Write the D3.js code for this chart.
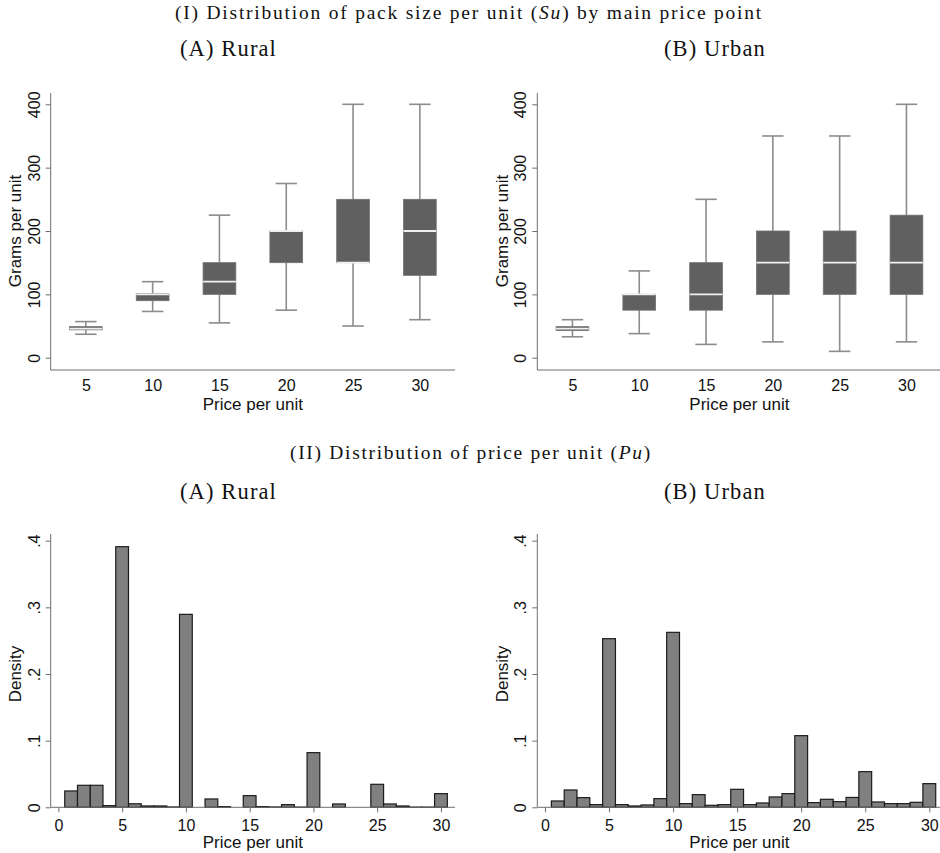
<!DOCTYPE html>
<html><head><meta charset="utf-8">
<script src="https://cdn.jsdelivr.net/npm/d3@7"></script>
<style>body{margin:0;background:#fff} svg{display:block}</style>
</head><body>
<svg id="c" width="940" height="853"></svg>
<script>
// ---------- data ----------
const pricePoints = [5, 10, 15, 20, 25, 30];
const ruralLow  = [37, 73, 55, 75, 50, 60];
const ruralQ1   = [44, 90, 100, 150, 150, 130];
const ruralMed  = [46, 100, 120, 200, 150, 200];
const ruralQ3   = [49, 101, 150, 200, 250, 250];
const ruralHigh = [57, 120, 225, 275, 400, 400];
const urbanLow  = [33, 38, 21, 25, 10, 25];
const urbanQ1   = [43, 75, 75, 100, 100, 100];
const urbanMed  = [46, 100, 100, 150, 150, 150];
const urbanQ3   = [49, 100, 150, 200, 200, 225];
const urbanHigh = [60, 137, 250, 350, 350, 400];
const boxYTicks = [0, 100, 200, 300, 400];

const histBins = [1,2,3,4,5,6,7,8,9,10,11,12,13,14,15,16,17,18,19,20,21,22,23,24,25,26,27,28,29,30];
const ruralDensity = [0.0245, 0.033, 0.033, 0.0025, 0.391, 0.0053, 0.002, 0.002, 0.0005, 0.2895,
                      0, 0.0125, 0.001, 0, 0.0175, 0.001, 0.0005, 0.004, 0.0003, 0.082,
                      0, 0.005, 0, 0, 0.0345, 0.005, 0.002, 0.0003, 0.0003, 0.0205];
const urbanDensity = [0.0095, 0.026, 0.0145, 0.004, 0.253, 0.004, 0.002, 0.0035, 0.013, 0.2625,
                      0.0055, 0.019, 0.003, 0.004, 0.027, 0.004, 0.0065, 0.0155, 0.0205, 0.1075,
                      0.007, 0.012, 0.0085, 0.0148, 0.0535, 0.008, 0.0055, 0.0055, 0.0075, 0.0355];
const binWidth = 1;
const histYTicks = [0, 0.1, 0.2, 0.3, 0.4];
const histYLabels = ["0", ".1", ".2", ".3", ".4"];
const histXTicks = [0, 5, 10, 15, 20, 25, 30];

// ---------- style ----------
const SANS = "'Liberation Sans', Arial, sans-serif";
const SERIF = "'Liberation Serif', 'Times New Roman', serif";
const axisColor = "#6e6e6e";
const boxFill = "#606060";
const whiskerColor = "#8c8c8c";
const medianColor = "#f0f0f0";
const barFill = "#808080";
const barStroke = "#1c1c1c";

const svg = d3.select("#c");

// widen text to the target width with letter spacing (keeps the font size)
function spreadText(sel, target) {
  const w = sel.node().getComputedTextLength();
  const n = sel.text().length;
  if (w < target) sel.attr("letter-spacing", (target - w) / n);
  else sel.attr("font-size", parseFloat(sel.attr("font-size")) * target / w);
}

function title(parts, cx, baseline, width, fs) {
  const t = svg.append("text").attr("x", cx).attr("y", baseline)
    .attr("text-anchor", "middle").attr("font-family", SERIF).attr("font-size", fs).attr("fill", "#111");
  parts.forEach(p => t.append("tspan").attr("font-style", p.i ? "italic" : "normal").text(p.t));
  spreadText(t, width);
}

function styleYAxis(g, yTitle, cy, x0) {
  g.select(".domain").remove();
  g.selectAll(".tick line").attr("stroke", axisColor);
  g.selectAll(".tick text")
    .attr("x", 0).attr("dy", 0).attr("text-anchor", "middle")
    .attr("transform", "translate(-11,0) rotate(-90)")
    .attr("font-family", SANS).attr("font-size", 16).attr("fill", "#111");
  svg.append("text").attr("transform", `translate(${x0 - 29.5},${cy}) rotate(-90)`)
    .attr("text-anchor", "middle").attr("font-family", SANS).attr("font-size", 17).attr("fill", "#111")
    .text(yTitle);
}

function boxPanel(x0, x1, low, q1, med, q3, high) {
  const y = d3.scaleLinear().domain([0, 400]).range([357.7, 104.3]);
  const x = d3.scalePoint().domain(pricePoints).range([x0, x1]).padding(0.526);
  const axisY = 370, axisTop = 93;
  const g = svg.append("g");
  g.append("line").attr("x1", x0).attr("x2", x0).attr("y1", axisTop).attr("y2", axisY).attr("stroke", axisColor);
  g.append("line").attr("x1", x0).attr("x2", x1).attr("y1", axisY).attr("y2", axisY).attr("stroke", axisColor);
  const ya = g.append("g").attr("transform", `translate(${x0},0)`)
    .call(d3.axisLeft(y).tickValues(boxYTicks).tickSize(5).tickSizeOuter(0));
  styleYAxis(ya, "Grams per unit", (y(0) + y(400)) / 2, x0);
  const xa = g.append("g").attr("transform", `translate(0,${axisY})`)
    .call(d3.axisBottom(x).tickSize(0).tickPadding(9.5));
  xa.select(".domain").remove();
  xa.selectAll(".tick text").attr("font-family", SANS).attr("font-size", 16).attr("fill", "#111");
  svg.append("text").attr("x", (x0 + x1) / 2).attr("y", 410).attr("text-anchor", "middle")
    .attr("font-family", SANS).attr("font-size", 17).attr("fill", "#111").text("Price per unit");

  const bw = x.step() * 0.49, cw = x.step() * 0.32;
  const rows = pricePoints.map((p, i) => ({p, lo: low[i], q1: q1[i], med: med[i], q3: q3[i], hi: high[i]}));
  const b = g.selectAll(".box").data(rows).join("g").attr("class", "box");
  b.append("line").attr("x1", d => x(d.p)).attr("x2", d => x(d.p)).attr("y1", d => y(d.hi)).attr("y2", d => y(d.q3))
    .attr("stroke", whiskerColor).attr("stroke-width", 1.6);
  b.append("line").attr("x1", d => x(d.p)).attr("x2", d => x(d.p)).attr("y1", d => y(d.q1)).attr("y2", d => y(d.lo))
    .attr("stroke", whiskerColor).attr("stroke-width", 1.6);
  b.append("line").attr("x1", d => x(d.p) - cw / 2).attr("x2", d => x(d.p) + cw / 2).attr("y1", d => y(d.hi)).attr("y2", d => y(d.hi))
    .attr("stroke", whiskerColor).attr("stroke-width", 1.6);
  b.append("line").attr("x1", d => x(d.p) - cw / 2).attr("x2", d => x(d.p) + cw / 2).attr("y1", d => y(d.lo)).attr("y2", d => y(d.lo))
    .attr("stroke", whiskerColor).attr("stroke-width", 1.6);
  b.append("rect").attr("x", d => x(d.p) - bw / 2).attr("width", bw)
    .attr("y", d => y(d.q3)).attr("height", d => y(d.q1) - y(d.q3))
    .attr("fill", boxFill).attr("stroke", "#707070").attr("stroke-width", 0.8);
  b.append("line").attr("x1", d => x(d.p) - bw / 2).attr("x2", d => x(d.p) + bw / 2).attr("y1", d => y(d.med)).attr("y2", d => y(d.med))
    .attr("stroke", medianColor).attr("stroke-width", 1.8);
}

function histPanel(x0, x1, xmax, dens) {
  const y = d3.scaleLinear().domain([0, 0.4]).range([807.3, 540.7]);
  const x = d3.scaleLinear().domain([-0.6, xmax]).range([x0, x1]);
  const axisY = y(0), axisTop = 534;
  const g = svg.append("g");
  const rows = histBins.map((c, i) => ({c, v: dens[i]})).filter(d => d.v > 0);
  g.selectAll(".bar").data(rows).join("rect").attr("class", "bar")
    .attr("x", d => x(d.c - binWidth / 2)).attr("width", d => x(d.c + binWidth / 2) - x(d.c - binWidth / 2))
    .attr("y", d => y(d.v)).attr("height", d => y(0) - y(d.v))
    .attr("fill", barFill).attr("stroke", barStroke).attr("stroke-width", 1.2);
  g.append("line").attr("x1", x0).attr("x2", x0).attr("y1", axisTop).attr("y2", axisY).attr("stroke", axisColor);
  g.append("line").attr("x1", x0).attr("x2", x1).attr("y1", axisY).attr("y2", axisY).attr("stroke", axisColor);
  const ya = g.append("g").attr("transform", `translate(${x0},0)`)
    .call(d3.axisLeft(y).tickValues(histYTicks).tickFormat((d, i) => histYLabels[i]).tickSize(5).tickSizeOuter(0));
  styleYAxis(ya, "Density", (y(0) + y(0.4)) / 2, x0);
  const xa = g.append("g").attr("transform", `translate(0,${axisY})`)
    .call(d3.axisBottom(x).tickValues(histXTicks).tickFormat(d3.format("d")).tickSize(5).tickPadding(7.3));
  xa.select(".domain").remove();
  xa.selectAll(".tick line").attr("stroke", axisColor);
  xa.selectAll(".tick text").attr("font-family", SANS).attr("font-size", 16).attr("fill", "#111");
  svg.append("text").attr("x", (x0 + x1) / 2).attr("y", 848).attr("text-anchor", "middle")
    .attr("font-family", SANS).attr("font-size", 17).attr("fill", "#111").text("Price per unit");
}

// ---------- titles ----------
title([{t: "(I) Distribution of pack size per unit ("}, {t: "Su", i: true}, {t: ") by main price point"}], 469, 19, 588, 19.5);
title([{t: "(A) Rural"}], 228.5, 56, 97, 22.5);
title([{t: "(B) Urban"}], 715, 56, 102, 22.5);
title([{t: "(II) Distribution of price per unit ("}, {t: "Pu", i: true}, {t: ")"}], 471, 458.5, 362, 19.5);
title([{t: "(A) Rural"}], 228.5, 498.5, 97, 22.5);
title([{t: "(B) Urban"}], 715, 498.5, 102, 22.5);

// ---------- panels ----------
boxPanel(50.7, 455, ruralLow, ruralQ1, ruralMed, ruralQ3, ruralHigh);
boxPanel(537.3, 941.6, urbanLow, urbanQ1, urbanMed, urbanQ3, urbanHigh);
histPanel(50.7, 455, 31.1, ruralDensity);
histPanel(537.3, 941.6, 30.96, urbanDensity);
</script>
</body></html>
